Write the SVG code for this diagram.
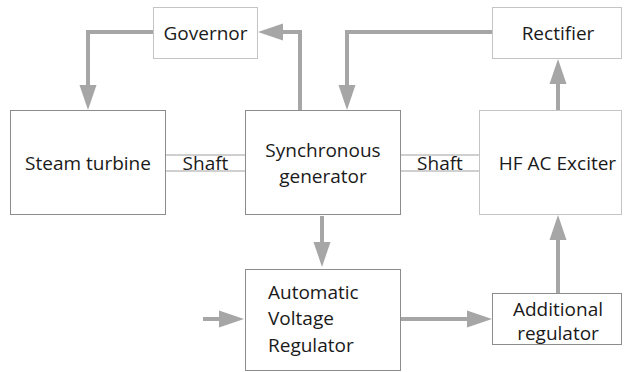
<svg xmlns="http://www.w3.org/2000/svg" width="624" height="372" viewBox="0 0 624 372">
<style>
.box{fill:#ffffff;stroke-width:1}
.dk{stroke:#8c8c8c}
.lt{stroke:#c4c4c4}
.t{font-family:"Open Sans","Liberation Sans",sans-serif;font-size:19px;fill:#1a1a1a}
.c{text-anchor:middle}
.ar{fill:none;stroke:#a6a6a6;stroke-width:4}
.hd{fill:#a6a6a6}
.sh{stroke:#a0a0a0;stroke-width:1;fill:none}
</style>
<rect width="624" height="372" fill="#ffffff"/>
<g id="connectors">
  <path class="sh" d="M166 155H245M166 171H245"/>
  <path class="sh" d="M401 155H479M401 171H479"/>
  <path class="ar" d="M153 32H88V86"/>
  <polygon class="hd" points="79.5,85 96.5,85 88,110"/>
  <path class="ar" d="M300 110V32H282"/>
  <polygon class="hd" points="283,23.5 283,40.5 258,32"/>
  <path class="ar" d="M492 32H347V86"/>
  <polygon class="hd" points="338.5,85 355.5,85 347,110"/>
  <path class="ar" d="M558 110V83"/>
  <polygon class="hd" points="549.5,84 566.5,84 558,59"/>
  <path class="ar" d="M322 216V243"/>
  <polygon class="hd" points="313.5,242 330.5,242 322,267"/>
  <path class="ar" d="M401 319H468"/>
  <polygon class="hd" points="467,310.5 467,327.5 492,319"/>
  <path class="ar" d="M558 293V239"/>
  <polygon class="hd" points="549.5,240 566.5,240 558,215"/>
  <path class="ar" d="M203 319H220"/>
  <polygon class="hd" points="219,310.5 219,327.5 244,319"/>
</g>
<text class="t c" x="205.5" y="170">Shaft</text>
<text class="t c" x="440" y="170">Shaft</text>
<g id="governor">
  <rect class="box lt" x="153.5" y="7.5" width="104" height="51"/>
  <text class="t c" x="205.5" y="40">Governor</text>
</g>
<g id="rectifier">
  <rect class="box lt" x="492.5" y="7.5" width="129" height="51"/>
  <text class="t c" x="558" y="40">Rectifier</text>
</g>
<g id="steam-turbine">
  <rect class="box dk" x="10.5" y="110.5" width="155" height="104"/>
  <text class="t c" x="88" y="170">Steam turbine</text>
</g>
<g id="synchronous-generator">
  <rect class="box dk" x="245.5" y="110.5" width="155" height="104"/>
  <text class="t c" x="323" y="157">Synchronous</text>
  <text class="t c" x="323" y="183">generator</text>
</g>
<g id="hf-ac-exciter">
  <rect class="box lt" x="479.5" y="110.5" width="142" height="104"/>
  <text class="t c" x="557.5" y="170">HF AC Exciter</text>
</g>
<g id="avr">
  <rect class="box dk" x="245.5" y="269.5" width="155" height="101"/>
  <text class="t" x="268" y="298.5">Automatic</text>
  <text class="t" x="268" y="325">Voltage</text>
  <text class="t" x="268" y="351.5">Regulator</text>
</g>
<g id="additional-regulator">
  <rect class="box dk" x="492.5" y="293.5" width="129" height="51"/>
  <text class="t c" x="558" y="315.5">Additional</text>
  <text class="t c" x="558" y="339.5">regulator</text>
</g>
</svg>
